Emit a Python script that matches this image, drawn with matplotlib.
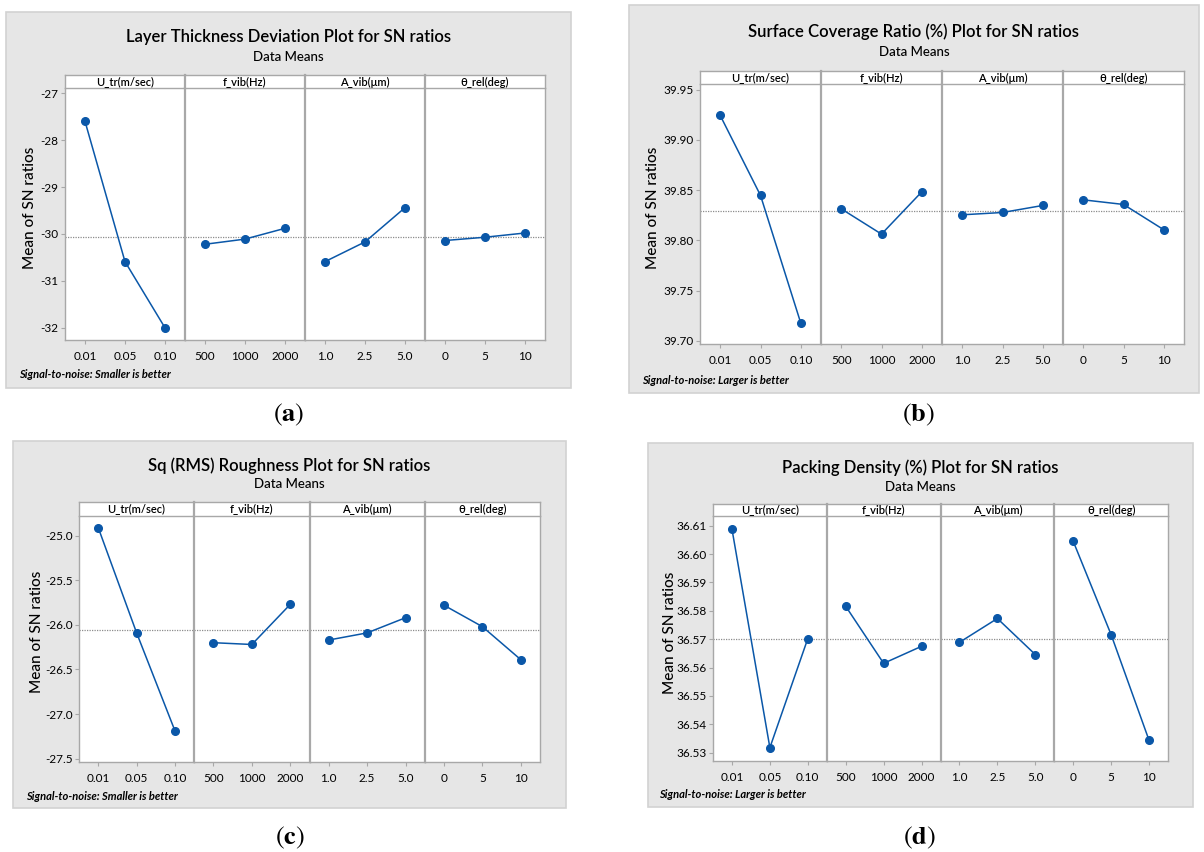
import numpy as np
import matplotlib
matplotlib.use('Agg')
import matplotlib.pyplot as plt
from matplotlib.patches import Rectangle

plt.rcParams['font.family'] = ['Lato', 'DejaVu Sans']
plt.rcParams['mathtext.fontset'] = 'stix'

# factors and levels (same for all four plots)
factors = ['U_tr(m/sec)', 'f_vib(Hz)', 'A_vib(μm)', 'θ_rel(deg)']
levels = [['0.01', '0.05', '0.10'],
          ['500', '1000', '2000'],
          ['1.0', '2.5', '5.0'],
          ['0', '5', '10']]

# mean SN ratios per factor level
thickness_sn = [[-27.60, -30.59, -32.00],
                [-30.22, -30.11, -29.88],
                [-30.59, -30.17, -29.44],
                [-30.14, -30.07, -29.98]]
coverage_sn = [[39.9244, 39.8448, 39.7176],
               [39.8315, 39.8063, 39.8484],
               [39.8255, 39.8278, 39.8348],
               [39.8404, 39.8358, 39.8106]]
roughness_sn = [[-24.91, -26.09, -27.19],
                [-26.20, -26.22, -25.77],
                [-26.17, -26.09, -25.92],
                [-25.78, -26.02, -26.39]]
packing_sn = [[36.6088, 36.5318, 36.5702],
              [36.5816, 36.5615, 36.5675],
              [36.5689, 36.5773, 36.5646],
              [36.6045, 36.5716, 36.5344]]

thickness_ticks = [-27, -28, -29, -30, -31, -32]
coverage_ticks = [39.95, 39.90, 39.85, 39.80, 39.75, 39.70]
roughness_ticks = [-25.0, -25.5, -26.0, -26.5, -27.0, -27.5]
packing_ticks = [36.61, 36.60, 36.59, 36.58, 36.57, 36.56, 36.55, 36.54, 36.53]

W, H = 1204, 852
BLUE = '#0a57a8'
FRAME = '#a8a8a8'

fig = plt.figure(figsize=(W / 100, H / 100), dpi=100)


def fx(px):
    return px / W


def fy(py):
    return 1 - py / H


def panel(box, plot, title_y, title, data, yticks, fmt, ylim, ylabel_x,
          footer, footer_xy, caption, caption_xy):
    bx0, by0, bx1, by1 = box
    fig.patches.append(Rectangle((fx(bx0), fy(by1)), fx(bx1 - bx0), (by1 - by0) / H,
                                 transform=fig.transFigure, facecolor='#e6e6e6',
                                 edgecolor='#d2d2d2', lw=1.2, zorder=-5))
    px0, px1, s_top, s_bot, p_bot = plot
    cx = (bx0 + bx1) / 2
    fig.text(fx(cx), fy(title_y[0]), title, ha='center', va='center', fontsize=12,
             fontweight='semibold')
    fig.text(fx(cx), fy(title_y[1]), 'Data Means', ha='center', va='center', fontsize=9.5,
             fontweight='medium')

    grand = np.mean(data)
    w = (px1 - px0) / 4
    for i in range(4):
        ax = fig.add_axes([fx(px0 + i * w), fy(p_bot), w / W, (p_bot - s_bot) / H])
        x = np.arange(3)
        ax.plot(x, data[i], '-o', color=BLUE, lw=1.1, ms=5.5, zorder=3)
        ax.axhline(grand, color='#8c8c8c', lw=0.9, ls=(0, (1, 1)), zorder=1)
        ax.set_xlim(-0.5, 2.5)
        ax.set_ylim(*ylim)
        ax.set_xticks(x)
        ax.set_xticklabels(levels[i], fontsize=8.5)
        ax.set_yticks(yticks)
        if i == 0:
            ax.set_yticklabels([fmt.format(v) for v in yticks], fontsize=8.5)
            ax.tick_params(axis='y', length=3, color=FRAME, pad=1.5)
        else:
            ax.tick_params(axis='y', left=False, labelleft=False)
        ax.tick_params(axis='x', length=3, color=FRAME, pad=5)
        for sp in ax.spines.values():
            sp.set_color(FRAME)
            sp.set_linewidth(1.0)
        ax.spines['top'].set_visible(False)
        if i > 0:
            ax.spines['left'].set_linewidth(1.6)

        sax = fig.add_axes([fx(px0 + i * w), fy(s_bot), w / W, (s_bot - s_top) / H])
        sax.set_xticks([])
        sax.set_yticks([])
        for sp in sax.spines.values():
            sp.set_color(FRAME)
            sp.set_linewidth(1.0)
        if i > 0:
            sax.spines['left'].set_linewidth(1.6)
        sax.text(0.5, 0.45, factors[i], ha='center', va='center', fontsize=8,
                 fontweight='semibold', transform=sax.transAxes)

    fig.text(fx(ylabel_x), fy((s_top + p_bot) / 2), 'Mean of SN ratios', rotation=90,
             ha='center', va='center', fontsize=11, fontweight='medium')
    fig.text(fx(footer_xy[0]), fy(footer_xy[1]), footer, ha='left', va='center',
             fontsize=8, fontweight='bold', fontstyle='italic')
    fig.text(fx(caption_xy[0]), fy(caption_xy[1]), r'($\mathbf{' + caption + '}$)',
             ha='center', va='center', fontsize=19, fontfamily='STIXGeneral')


panel((6, 12, 571, 388), (65, 545, 75, 88, 340), (37, 57),
      'Layer Thickness Deviation Plot for SN ratios', thickness_sn,
      thickness_ticks, '{:.0f}', (-32.26, -26.89), 30,
      'Signal-to-noise: Smaller is better', (19, 374), 'a', (289, 415))

panel((629, 5, 1199, 393), (700, 1184, 71, 84, 344), (32, 52),
      'Surface Coverage Ratio (%) Plot for SN ratios', coverage_sn,
      coverage_ticks, '{:.2f}', (39.697, 39.9556), 653,
      'Signal-to-noise: Larger is better', (642, 380), 'b', (918, 415))

panel((13, 441, 566, 808), (79, 540, 502, 516, 762), (466, 484),
      'Sq (RMS) Roughness Plot for SN ratios', roughness_sn,
      roughness_ticks, '{:.1f}', (-27.537, -24.78), 37,
      'Signal-to-noise: Smaller is better', (26, 797), 'c', (290, 838))

panel((648, 443, 1193, 807), (713, 1168, 504, 516, 761), (468, 487),
      'Packing Density (%) Plot for SN ratios', packing_sn,
      packing_ticks, '{:.2f}', (36.5271, 36.6134), 670,
      'Signal-to-noise: Larger is better', (659, 794), 'd', (919, 838))

fig.savefig('out.png', dpi=100, facecolor='white')
